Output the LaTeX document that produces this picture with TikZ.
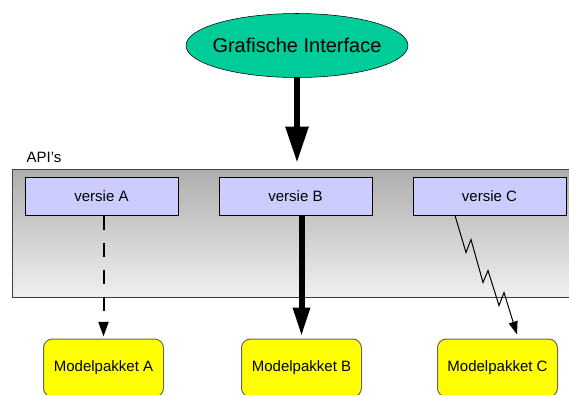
\documentclass[tikz,border=0pt]{standalone}
\usepackage{fontspec}
\setmainfont{Liberation Sans}
\usetikzlibrary{positioning,calc}
\usetikzlibrary{shapes.geometric}
\usetikzlibrary{arrows.meta}
\definecolor{guigreen}{RGB}{0,204,153}
\definecolor{versieblue}{RGB}{204,204,255}
\definecolor{pakketyellow}{RGB}{255,255,0}
\newcommand*\smallfont{\fontsize{11.25}{13}\selectfont}

\begin{document}
\begin{tikzpicture}[x=0.75pt,y=-0.75pt,on grid,
   gui/.style={ellipse,draw,fill=guigreen,minimum width=166.5pt,minimum height=48pt,
      inner xsep=-5pt,inner ysep=0pt,font=\fontsize{15}{18}\selectfont},
   api/.style={draw=black!75,line width=0.75pt,top color=black!32,bottom color=black!6,
      minimum width=422.25pt,minimum height=96pt},
   versie/.style={draw,line width=0.75pt,fill=versieblue,minimum width=114.75pt,
      minimum height=28.5pt,font=\smallfont},
   pakket/.style={draw=black!60,line width=0.75pt,fill=pakketyellow,rounded corners=6.75pt,
      minimum width=90pt,minimum height=43.5pt,font=\smallfont}]
   \clip (0,0) rectangle (569,394);
   \node[gui] (gui) at (297,45.5) {Grafische Interface};
   \node[api] (api) at (293.5,233) {};
   \node[anchor=base west,font=\smallfont] (apilabel) at (22,162.5) {API’s};
   \node[versie] (vB) at (295.5,196) {versie B};
   \node[versie] (vA) [left=145.5pt of vB] {versie A};
   \node[versie] (vC) [right=145.5pt of vB] {versie C};
%   \node[pakket] (mB) [below=of vB] {Modelpakket B};
   \node[pakket] (mB) at (301.5,368) {Modelpakket B};
   \node[pakket] (mA) [left=148.5pt of mB] {Modelpakket A};
   \node[pakket] (mC) [right=147pt of mB] {Modelpakket C};
   \path[line width=4.5pt,-{Triangle[width=16.5pt,length=27pt]},shorten >=4.5pt]
    (gui.south) edge (gui.south |- api.north);
   \path[line width=4.5pt,-{Triangle[width=12pt,length=21.75pt]},shorten >=1.5pt]
    (mB.north |- vB.south) edge (mB.north);
   \path[line width=1.5pt,dash pattern=on 10.5pt off 9.75pt,
      -{Triangle[width=7.5pt,length=11pt]},shorten >=1.5pt]
    (mA.north |- vA.south) edge (mA.north);
   \draw[line width=0.75pt,-{Triangle[width=6.75pt,length=9.75pt]}]
    ($(vC.south)+(-34.5,0)$) -- ++(11,37) -- ++(5,-13) -- ++(12,43) -- ++(5,-12)
      -- ++(11,35) -- ++(5,-13) -- ($(mC.north)+(19.5,-4)$);
\end{tikzpicture}
\end{document}
